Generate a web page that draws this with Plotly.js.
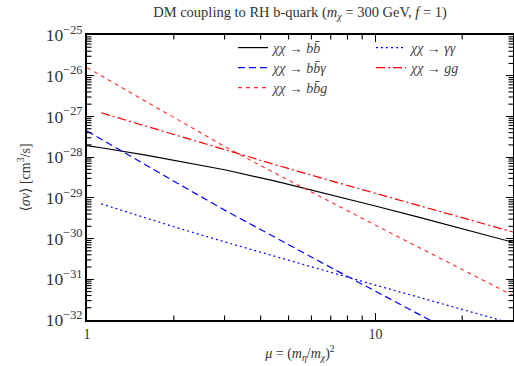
<!DOCTYPE html>
<html>
<head>
<meta charset="utf-8">
<script src="https://cdn.plot.ly/plotly-3.0.1.min.js"></script>
<style>html,body{margin:0;padding:0;background:#fff;}#chart{width:514px;height:366px;}</style>
</head>
<body>
<div id="chart"></div>
<script>
// x grid (mu) and series values
var mu = [1, 1.12, 1.6, 2, 3, 4.5, 7.5, 10, 14, 20, 30];
var muStart = [1.12, 1.6, 2, 3, 4.5, 7.5, 10, 14, 20, 30];
var muBBG = [1, 1.12, 1.6, 2, 3, 4.5, 7.5, 10, 14, 16];

var sv_bb    = [1.91e-28, 1.70e-28, 1.12e-28, 8.3e-29, 4.9e-29, 2.57e-29, 1.07e-29, 6.3e-30, 3.4e-30, 1.74e-30, 8.1e-31];
var sv_bbgam = [4.4e-28, 2.75e-28, 6.5e-29, 2.57e-29, 5.0e-30, 1.05e-30, 1.5e-31, 5.1e-32, 1.45e-32, 8.7e-33];
var sv_bbg   = [1.58e-26, 1.0e-26, 2.34e-27, 9.5e-28, 1.82e-28, 4.0e-29, 6.0e-30, 2.14e-30, 6.3e-31, 1.74e-31, 4.0e-32];
var sv_gamgam= [7.1e-30, 3.2e-30, 1.95e-30, 8.3e-31, 3.6e-31, 1.29e-31, 7.2e-32, 3.7e-32, 1.8e-32, 8.1e-33];
var sv_gg    = [1.23e-27, 5.8e-28, 3.55e-28, 1.51e-28, 6.5e-29, 2.29e-29, 1.29e-29, 6.6e-30, 3.2e-30, 1.45e-30];

var names = ['<i>χχ</i> → <i>bb̄</i>', '<i>χχ</i> → <i>bb̄γ</i>', '<i>χχ</i> → <i>bb̄g</i>',
             '<i>χχ</i> → <i>γγ</i>', '<i>χχ</i> → <i>gg</i>'];

// axis ranges
var xMin = 1, xMax = 30, yExpMin = -32, yExpMax = -25;

var serif = "'Liberation Serif', 'DejaVu Serif', serif";

var traces = [
  {x: mu, y: sv_bb, name: names[0], mode: 'lines', line: {color: '#000000', width: 1.2}, legend: 'legend'},
  {x: muBBG, y: sv_bbgam, name: names[1], mode: 'lines', line: {color: '#0000ff', width: 1.2, dash: '7px,4px'}, legend: 'legend2'},
  {x: mu, y: sv_bbg, name: names[2], mode: 'lines', line: {color: '#ff2a2a', width: 1.1, dash: '4px,4px'}, legend: 'legend3'},
  {x: muStart, y: sv_gamgam, name: names[3], mode: 'lines', line: {color: '#0000ff', width: 1.2, dash: '2px,3px'}, legend: 'legend4'},
  {x: muStart, y: sv_gg, name: names[4], mode: 'lines', line: {color: '#ff0000', width: 1.2, dash: '9px,3px,2px,3px'}, legend: 'legend5'}
];

function axisCommon() {
  return {
    showline: true, linecolor: '#000', linewidth: 1.5, mirror: 'allticks',
    ticks: 'inside', ticklen: 7, tickwidth: 1.3, tickcolor: '#000',
    showgrid: false, zeroline: false,
    tickfont: {family: serif, size: 14, color: '#333'}
  };
}

// minor tick marks (axis decoration) drawn on all four sides
var plotW = 426, plotH = 285, minorLen = 4.5;
var shapes = [];
var lx0 = Math.log10(xMin), lx1 = Math.log10(xMax);
for (var d = 0; d < 2; d++) {
  for (var k = 2; k <= 9; k++) {
    var v = k * Math.pow(10, d);
    if (v >= xMax) continue;
    var f = (Math.log10(v) - lx0) / (lx1 - lx0);
    shapes.push({type: 'line', xref: 'paper', yref: 'paper', x0: f, x1: f, y0: 0, y1: minorLen / plotH, line: {color: '#000', width: 1.1}});
    shapes.push({type: 'line', xref: 'paper', yref: 'paper', x0: f, x1: f, y0: 1, y1: 1 - minorLen / plotH, line: {color: '#000', width: 1.1}});
  }
}
for (var n = yExpMin; n < yExpMax; n++) {
  for (var k2 = 2; k2 <= 9; k2++) {
    var g = (n + Math.log10(k2) - yExpMin) / (yExpMax - yExpMin);
    shapes.push({type: 'line', xref: 'paper', yref: 'paper', y0: g, y1: g, x0: 0, x1: minorLen / plotW, line: {color: '#000', width: 1.1}});
    shapes.push({type: 'line', xref: 'paper', yref: 'paper', y0: g, y1: g, x0: 1, x1: 1 - minorLen / plotW, line: {color: '#000', width: 1.1}});
  }
}

function legendAt(px, py) {
  return {x: (px - 87) / plotW, y: 1 - (py - 35) / plotH, xanchor: 'left', yanchor: 'middle',
          bgcolor: 'rgba(0,0,0,0)', font: {family: serif, size: 14, color: '#444'}, itemwidth: 30};
}

var layout = {
  width: 514, height: 366,
  font: {family: serif, color: '#333'},
  margin: {l: 87, r: 1, t: 35, b: 46},
  paper_bgcolor: '#fff', plot_bgcolor: '#fff',
  title: {text: 'DM coupling to RH b-quark (<i>m</i><sub><i>χ</i></sub> = 300 GeV, <i>f</i> = 1)',
          font: {family: serif, size: 14.5, color: '#333'}, x: 0.5, xref: 'paper', y: 0.967, yref: 'container', xanchor: 'center', yanchor: 'middle'},
  xaxis: Object.assign(axisCommon(), {
    type: 'log', range: [lx0, lx1], dtick: 1,
    title: {text: '<i>μ</i> = (<i>m</i><sub><i>η</i></sub>/<i>m</i><sub><i>χ</i></sub>)<sup>2</sup>', font: {family: serif, size: 14, color: '#333'}, standoff: 8}
  }),
  yaxis: Object.assign(axisCommon(), {
    type: 'log', range: [yExpMin, yExpMax], dtick: 1, exponentformat: 'power',
    title: {text: '⟨<i>σv</i>⟩ [cm<sup>3</sup>/s]', font: {family: serif, size: 14, color: '#333'}, standoff: 12}
  }),
  shapes: shapes,
  showlegend: true,
  legend: legendAt(233, 48),
  legend2: legendAt(233, 68),
  legend3: legendAt(233, 88),
  legend4: legendAt(371, 48),
  legend5: legendAt(371, 68)
};

Plotly.newPlot('chart', traces, layout, {displayModeBar: false});
</script>
</body>
</html>
